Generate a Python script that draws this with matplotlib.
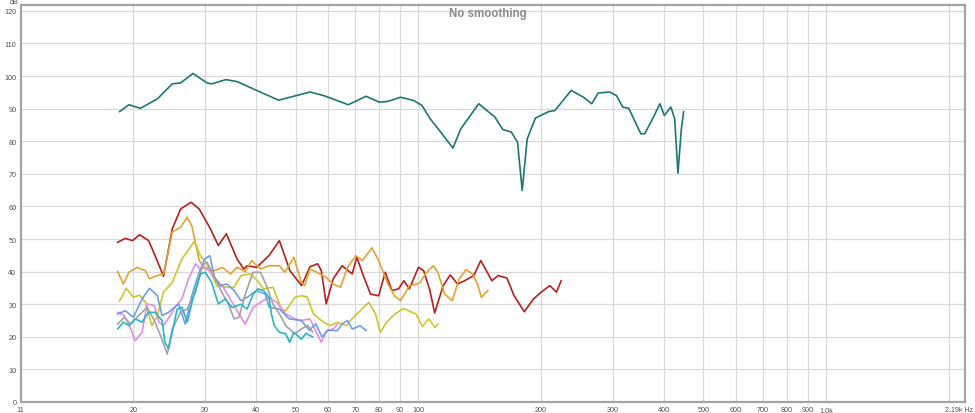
import numpy as np
import matplotlib
matplotlib.use('Agg')
import matplotlib.pyplot as plt

plt.rcParams['font.family'] = ['Liberation Sans', 'DejaVu Sans']

# top measurement (teal)
f_main = [18.5, 19.5, 20.8, 22.9, 24.9, 26.1, 28.0, 30.3, 31.1, 33.7, 35.9, 40.1, 45.4, 54.2, 58.6,
          67.3, 74.4, 80.1, 84, 90.4, 97.3, 102, 106.8, 111, 121.5, 127, 140.6, 154, 161, 169, 175,
          179.7, 184.8, 193.6, 208.6, 216, 237, 254, 266, 276, 294, 306, 317, 328, 351, 359, 377,
          391, 401, 416, 425, 433, 441, 447]
db_main = [89.1, 91.2, 90.1, 93.0, 97.6, 97.9, 100.8, 97.9, 97.6, 98.9, 98.3, 95.6, 92.6, 95.1, 94.0,
           91.2, 93.8, 92.0, 92.2, 93.5, 92.5, 91.0, 86.9, 84.3, 77.9, 83.8, 91.5, 87.4, 83.6, 82.8, 79.7,
           64.9, 80.7, 87.1, 89.1, 89.4, 95.6, 93.5, 91.5, 94.8, 95.1, 94.0, 90.5, 90.1, 82.3, 82.3, 87.4,
           91.5, 87.9, 90.5, 86.9, 70.2, 83.3, 89.1]

f_red = [18.3, 19.1, 19.9, 20.7, 21.8, 22.6, 23.7, 24.9, 26.1, 27.7, 29.0, 30.9, 32.3, 33.8, 35.9, 37.3,
         38.0, 40.1, 43.0, 45.6, 48.4, 51.7, 54.2, 56.6, 57.8, 59.4, 61.8, 65, 68.8, 70.6, 73.5, 76.3,
         79.9, 82.9, 86.1, 89.4, 92.1, 95, 100, 103, 106.7, 109.6, 115, 119.7, 124.7, 129.8, 136.7, 142.2,
         151.4, 156.9, 164.9, 171.6, 181.8, 191.4, 200, 210, 218, 223.9]
db_red = [49.0, 50.2, 49.5, 51.3, 49.5, 44.9, 38.6, 53.1, 59.2, 61.3, 59.2, 53.1, 48.0, 51.6, 43.9, 40.8,
          41.8, 41.3, 44.9, 49.5, 40.3, 35.7, 41.5, 42.4, 40.3, 30.1, 37.8, 41.8, 39.3, 44.4, 38.3, 33.1,
          32.6, 39.8, 34.2, 34.7, 37.2, 34.7, 41.3, 40.3, 34.2, 27.3, 35.7, 39.0, 36.2, 37.2, 38.8, 43.4,
          37.2, 38.8, 38.0, 32.6, 27.7, 31.6, 33.7, 35.7, 33.7, 37.2]

f_orange = [18.3, 18.9, 19.5, 20.4, 21.4, 21.9, 22.9, 23.7, 24.9, 26.1, 27.1, 27.8, 29.0, 30.0, 31.6, 33.1,
            34.6, 35.9, 37.6, 39.0, 41.0, 43.0, 45.6, 47, 49.5, 51.6, 52.6, 54.2, 56.3, 59.3, 61.8, 64.4,
            67, 70.2, 72.9, 76.9, 79.9, 83.8, 87.3, 90.4, 95, 99.5, 101, 104, 108.7, 111.6, 116, 121,
            125.9, 130.8, 135.8, 139.6, 142.6, 148]
db_orange = [40.0, 36.2, 39.8, 41.3, 40.3, 37.8, 38.8, 39.3, 52.1, 53.6, 56.7, 54.1, 43.4, 40.8, 40.3, 41.3,
             39.3, 41.3, 40.0, 43.4, 40.8, 41.8, 41.8, 39.8, 44.4, 36.7, 35.7, 40.8, 39.8, 38.3, 36.2, 35.2,
             41.3, 44.9, 43.4, 47.3, 43.4, 36.7, 32.6, 31.1, 35.7, 36.2, 36.7, 39.3, 41.8, 39.8, 33.1, 31.1,
             37.8, 40.6, 39.3, 36.2, 32.1, 34.2]

f_yellow = [18.5, 19.2, 20, 20.7, 21.4, 22.2, 22.9, 23.7, 24.9, 26.3, 28.2, 29.2, 30.3, 32.0, 33.9, 35.3,
            36.7, 38.7, 40.1, 41.7, 44.0, 46.1, 47.3, 49.8, 51.6, 53.3, 55.3, 58.5, 60.9, 63.3, 66.5, 68.7,
            72, 75.6, 78.5, 80.6, 83.6, 87.6, 92, 96.5, 98.6, 102.3, 106, 109.7, 111.6]
db_yellow = [31.0, 34.9, 32.1, 32.8, 30.6, 23.4, 26.5, 33.7, 36.7, 43.9, 49.2, 44.9, 42.4, 35.7, 35.2, 35.2,
             38.8, 39.3, 37.5, 34.7, 35.2, 28.5, 28.0, 32.1, 32.6, 32.3, 27.0, 24.5, 23.4, 24.5, 23.4, 25.5,
             28.0, 30.6, 27.0, 21.4, 24.5, 27.0, 28.7, 27.5, 27.0, 23.2, 25.5, 22.9, 23.9]

f_violet = [18.3, 19.0, 19.7, 20.2, 21, 21.6, 22.5, 23.1, 23.7, 24.6, 25.3, 26.3, 27.3, 28.4, 29.2, 30.3,
            31.5, 33, 34.2, 35.9, 37.6, 39.3, 41, 42.9, 44.9, 47.3, 49.8, 51.6, 54.2, 55.5, 57.8, 59.5,
            61.8, 63.4]
db_violet = [27.5, 26.5, 22.4, 18.8, 21.4, 30.1, 29.6, 24.5, 23.4, 26.5, 29.1, 31.6, 37.8, 42.4, 40.8, 41.3,
             38.3, 35.7, 32.6, 28.0, 23.9, 29.0, 30.6, 32.1, 30.6, 27.0, 25.5, 25.0, 25.5, 22.8, 18.3, 21.9,
             22.4, 23.9]

f_blue = [18.3, 19.1, 20, 21, 21.9, 22.9, 23.5, 24.4, 25.8, 26.8, 27.8, 29, 29.9, 30.8, 31.6, 32.6,
          33.9, 35.3, 36.7, 38, 40.1, 42.1, 43, 45.6, 48.2, 51.6, 54, 56, 58, 60, 63.3, 65,
          67, 68.8, 72, 74.4]
db_blue = [27.0, 28.0, 26.0, 31.6, 34.9, 32.6, 26.5, 27.5, 30.1, 23.9, 32.6, 39.8, 43.9, 44.9, 38.3, 35.7,
           36.2, 34.2, 31.1, 32.1, 34.2, 33.1, 29.1, 28.5, 25.5, 25.0, 22.0, 24.0, 20.0, 22.0, 21.9, 24.0,
           25.0, 22.4, 23.4, 21.9]

f_gray = [18.3, 19.0, 19.7, 20.6, 21.6, 22.5, 23.3, 24.2, 24.9, 26.1, 27.1, 28.4, 29.5, 30.3, 31.5, 32.6,
          34.2, 35.3, 36.3, 37.6, 39.3, 41.0, 42.4, 44, 45.6, 47.3, 49.8, 51.6, 53.5, 55]
db_gray = [23.9, 26.0, 23.9, 26.5, 29.1, 25.0, 20.4, 14.7, 22.4, 27.5, 28.5, 33.7, 41.8, 42.9, 38.8, 34.7,
           30.0, 25.5, 26.0, 33.0, 39.8, 39.8, 35.7, 30.0, 27.0, 23.4, 20.9, 22.4, 23.5, 21.5]

f_cyan = [18.3, 18.9, 19.5, 20.2, 21, 21.8, 22.6, 23.5, 23.9, 24.4, 24.9, 25.6, 26.3, 27.1, 28.1, 29.2,
          30.0, 31.1, 32.3, 33.6, 34.9, 36.7, 38, 39.3, 40.4, 41.7, 43.0, 43.6, 44.3, 45.6, 47.3, 48.3,
          49.5, 51.6, 53, 55]
db_cyan = [22.4, 24.5, 23.4, 25.5, 24.5, 27.5, 27.5, 25.0, 18.3, 16.3, 21.4, 28.5, 29.1, 24.5, 32.6, 39.3,
           39.8, 36.7, 30.1, 31.6, 29.0, 30.0, 28.5, 33.0, 34.7, 34.2, 32.1, 27.0, 23.4, 21.4, 20.9, 18.3,
           21.4, 19.3, 21.0, 20.0]

x_ticks = [10.57, 20, 30, 40, 50, 60, 70, 80, 90, 100, 200, 300, 400, 500, 600, 700, 800, 900, 1000, 2000, 2190]
x_labels = ['11', '20', '30', '40', '50', '60', '70', '80', '90', '100', '200', '300', '400', '500',
            '600', '700', '800', '900', '1,0k', '', '']
y_ticks = list(range(0, 121, 10))

fig = plt.figure(figsize=(9.75, 4.14), dpi=100)
ax = fig.add_axes([20.5/975, 1-403/414, (965-20.5)/975, (403-6)/414])

ax.plot(f_main, db_main, color='#1d7773', lw=1.2)
ax.plot(f_red, db_red, color='#b3201f', lw=1.2)
ax.plot(f_orange, db_orange, color='#e3a235', lw=1.2)
ax.plot(f_yellow, db_yellow, color='#cbc72c', lw=1.2)
ax.plot(f_violet, db_violet, color='#e28de6', lw=1.2)
ax.plot(f_blue, db_blue, color='#6e9fe6', lw=1.2)
ax.plot(f_gray, db_gray, color='#a3a3a3', lw=1.2)
ax.plot(f_cyan, db_cyan, color='#27b6c6', lw=1.2)

ax.set_xscale('log')
ax.set_xlim(10.57, 2190)
ax.set_ylim(0, 121.8)
ax.minorticks_off()
ax.set_xticks(x_ticks)
ax.set_xticklabels(x_labels)
ax.set_yticks(y_ticks)
ax.set_yticklabels([str(v) for v in y_ticks])
ax.tick_params(length=0, labelsize=5.2, labelcolor='#505050', pad=3)
ax.grid(True, color='#dadada', lw=0.9)
ax.set_axisbelow(True)
for s in ax.spines.values():
    s.set_color('#a4a4a4')
    s.set_linewidth(1.6)

fig.text(487.5/975, 1-14.5/414, 'No smoothing', ha='center', va='center',
         fontsize=8.3, fontweight='bold', color='#8a8a8a')
fig.text(14.5/975, 1-3/414, 'dB', ha='center', va='center', fontsize=5.2, color='#505050')
fig.text(973/975, 1-409.5/414, '2,19k Hz', ha='right', va='center', fontsize=5.0, color='#505050')

fig.savefig('out.png', dpi=100)
